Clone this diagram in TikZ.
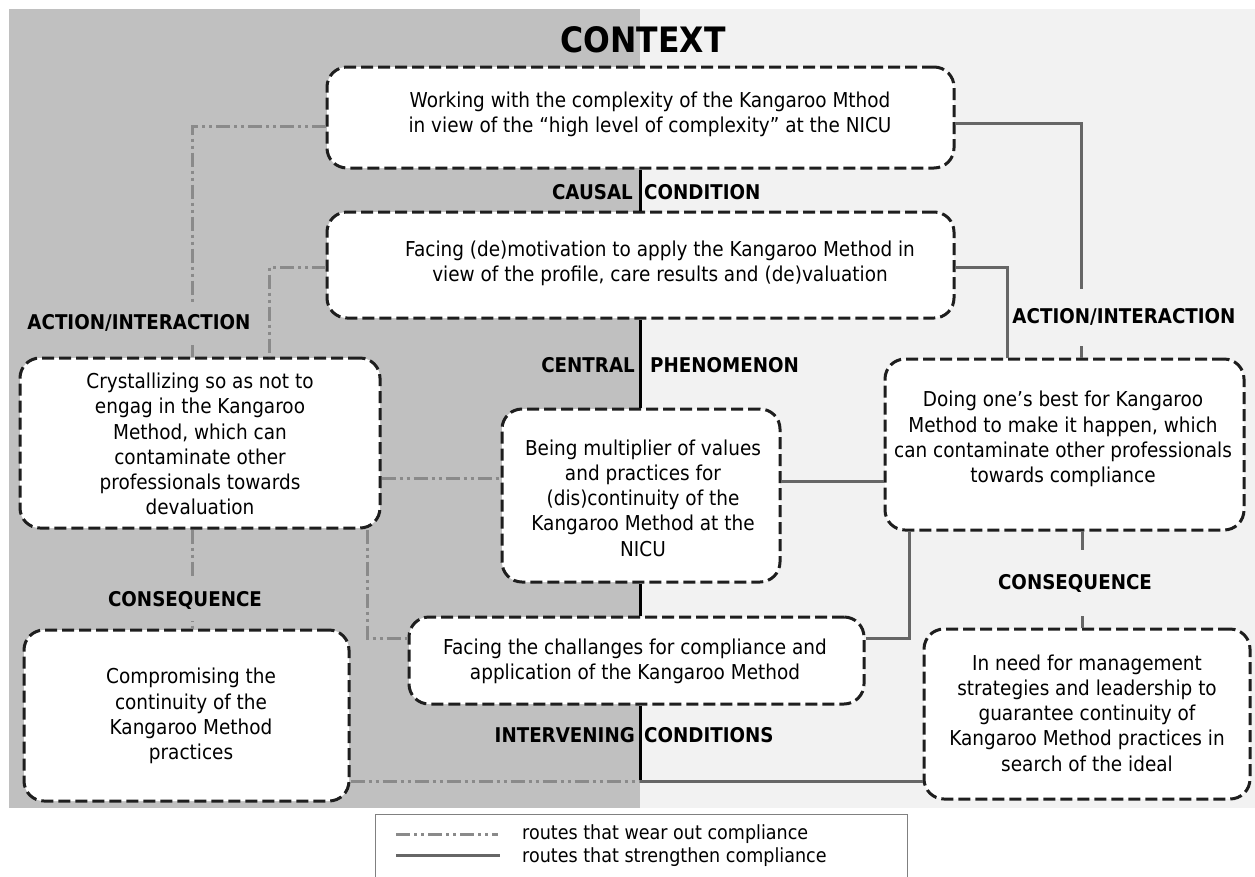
\documentclass[tikz,border=0pt]{standalone}
\usepackage{fontspec}
\setmainfont{DejaVu Sans}[FakeStretch=0.9]
\usetikzlibrary{calc}
\definecolor{leftbg}{HTML}{C0C0C0}
\definecolor{rightbg}{HTML}{F2F2F2}
\definecolor{boxc}{HTML}{1E1E1E}
\definecolor{solidc}{HTML}{666666}
\definecolor{wearc}{HTML}{8A8A8A}
\definecolor{legc}{HTML}{808080}
\newcommand\mybody{\fontsize{20.5}{25.3}\selectfont}
\newcommand\mylegend{\fontsize{19.5}{23}\selectfont}
\newcommand\mylab{\fontsize{20.3}{23}\selectfont\bfseries}
\tikzset{
 cbox/.style={draw=boxc, line width=3pt, dash pattern=on 12pt off 5pt, rounded corners=20pt, fill=white, inner sep=0pt},
 btext/.style={align=center, font=\mybody, inner sep=0pt, text=black},
 lab/.style={font=\mylab, inner sep=0pt, text=black},
 wear/.style={draw=wearc, line width=3pt, dash pattern=on 14pt off 4pt on 3pt off 4pt on 3pt off 4pt},
 strong/.style={draw=solidc, line width=3pt},
 spine/.style={draw=black, line width=3pt},
}
\begin{document}
\begin{tikzpicture}[x=1pt,y=-1pt]
\useasboundingbox (0,0) rectangle (1255,876);
\fill[leftbg] (9,9) rectangle (640,808);
\fill[rightbg] (640,9) rectangle (1255,808);
\node[lab, font=\fontsize{35}{40}\selectfont\bfseries] (ctx) at (643,40) {CONTEXT};

% boxes
\node[cbox, minimum width=627pt, minimum height=101pt] (b1) at (640.5,117.5) {};
\node[cbox, minimum width=627pt, minimum height=106pt] (b2) at (640.5,265) {};
\node[cbox, minimum width=360pt, minimum height=170pt] (b3) at (200,443) {};
\node[cbox, minimum width=278pt, minimum height=173pt] (b4) at (641,495.5) {};
\node[cbox, minimum width=359pt, minimum height=171pt] (b5) at (1064.5,444.5) {};
\node[cbox, minimum width=455pt, minimum height=87pt] (b6) at (636.5,660.5) {};
\node[cbox, minimum width=325pt, minimum height=171pt] (b7) at (186.5,715.5) {};
\node[cbox, minimum width=326pt, minimum height=170pt] (b8) at (1087,714) {};

% box texts
\node[btext] (t1) at (650,114) {Working with the complexity of the Kangaroo Mthod\\in view of the “high level of complexity” at the NICU};
\node[btext] (t2) at (660,263) {Facing (de)motivation to apply the Kangaroo Method in\\view of the profile, care results and (de)valuation};
\node[btext] (t3) at (200,444) {Crystallizing so as not to\\engag in the Kangaroo\\Method, which can\\contaminate other\\professionals towards\\devaluation};
\node[btext] (t4) at (643,498) {Being multiplier of values\\and practices for\\(dis)continuity of the\\Kangaroo Method at the\\NICU};
\node[btext] (t5) at (1063,439) {Doing one’s best for Kangaroo\\Method to make it happen, which\\can contaminate other professionals\\towards compliance};
\node[btext] (t6) at (635,661) {Facing the challanges for compliance and\\application of the Kangaroo Method};
\node[btext] (t7) at (191,716) {Compromising the\\continuity of the\\Kangaroo Method\\practices};
\node[btext] (t8) at (1087,713) {In need for management\\strategies and leadership to\\guarantee continuity of\\Kangaroo Method practices in\\search of the ideal};

\coordinate (j) at (640,781);

% spine
\draw[spine] (b1.south -| j) -- (b2.north -| j);
\draw[spine] (b2.south -| j) -- (b4.north -| j);
\draw[spine] (b4.south -| j) -- (b6.north -| j);
\draw[spine] (b6.south -| j) -- (j);

% routes that wear out compliance
\draw[wear] ($(b1.west)+(0,8.5)$) -| ($(b3.north)+(-8,0)$);
\draw[wear] ($(b2.west)+(0,2)$) -| ($(b3.north)+(69,0)$);
\draw[wear] ($(b3.east)+(0,35)$) -- ($(b4.west)+(0,-17.5)$);
\draw[wear] ($(b3.south)+(-8,0)$) -- ($(b7.north)+(5.5,0)$);
\draw[wear] ($(b3.south)+(167,0)$) |- ($(b6.west)+(0,-22.5)$);
\draw[wear] ($(b7.east)+(0,65.5)$) -- (j);

% routes that strengthen compliance
\draw[strong] ($(b1.east)+(0,5.5)$) -| ($(b5.north)+(16.5,0)$);
\draw[strong] ($(b2.east)+(0,2)$) -| ($(b5.north)+(-57.5,0)$);
\draw[strong] ($(b4.east)+(0,-14.5)$) -- ($(b5.west)+(0,36.5)$);
\draw[strong] ($(b5.south)+(-155.5,0)$) |- ($(b6.east)+(0,-22.5)$);
\draw[strong] ($(b5.south)+(17.5,0)$) -- ($(b8.north)+(-5,0)$);
\draw[strong] (j) -- ($(b8.west)+(0,67)$);

% labels
\node[lab, fill=leftbg, minimum height=43pt, inner xsep=2pt] (ai1) at (139,323) {ACTION/INTERACTION};
\node[lab, fill=rightbg, minimum height=57pt, inner xsep=1pt] (ai2) at (1124,317) {ACTION/INTERACTION};
\node[lab, fill=leftbg, minimum height=42pt, inner xsep=2pt] (cq1) at (185,600) {CONSEQUENCE};
\node[lab, fill=rightbg, minimum height=66pt, inner xsep=2pt] (cq2) at (1075,583) {CONSEQUENCE};
\node[lab, anchor=east] (c1) at (633,192) {CAUSAL};
\node[lab, anchor=west] (c2) at (644,192) {CONDITION};
\node[lab, anchor=east] (p1) at (635,365) {CENTRAL};
\node[lab, anchor=west] (p2) at (650,365) {PHENOMENON};
\node[lab, anchor=east] (i1) at (635,735) {INTERVENING};
\node[lab, anchor=west] (i2) at (644,735) {CONDITIONS};

% legend
\draw[legc, line width=0.8pt] (375,880) -- (375,814) -- (907,814) -- (907,880);
\coordinate (l1a) at (396,834);
\coordinate (l1b) at (498,834);
\coordinate (l2a) at (396,855);
\coordinate (l2b) at (500,855);
\draw[wear] (l1a) -- (l1b);
\draw[strong] (l2a) -- (l2b);
\node[btext, font=\mylegend, anchor=west] (lt1) at (522,834) {routes that wear out compliance};
\node[btext, font=\mylegend, anchor=west] (lt2) at (522,857) {routes that strengthen compliance};
\end{tikzpicture}
\end{document}
